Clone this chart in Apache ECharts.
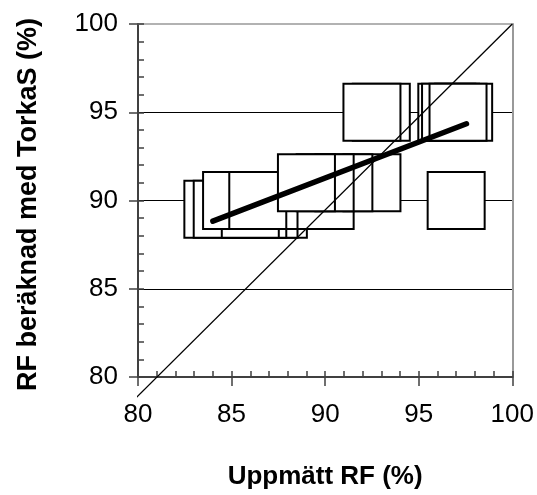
<!DOCTYPE html>
<html><head><meta charset="utf-8">
<script src="https://cdn.jsdelivr.net/npm/echarts@6/dist/echarts.min.js"></script>
<style>html,body{margin:0;padding:0;background:#fff}#c{width:537px;height:495px}</style>
</head><body><div id="c"></div>
<script>
// Data points (draw order: later items are drawn on top)
const measuredRF   = [87.5, 87.0, 86.4, 84.0, 84.5, 86.0,  90.0, 87.0, 85.0, 86.4,  92.5, 91.0, 90.0, 89.0,  93.0, 92.5, 96.5, 96.7, 97.4, 97.1,  97.0];
const calculatedRF = [89.5, 89.5, 89.5, 89.5, 89.5, 89.5,  90.0, 90.0, 90.0, 90.0,  91.0, 91.0, 91.0, 91.0,  95.0, 95.0, 95.0, 95.0, 95.0, 95.0,  90.0];
const regressionX = [84.0, 97.55];
const regressionY = [88.83, 94.35];
const refLineX = [79.5, 100];
const refLineY = [78.4, 100];
const axisMin = 80, axisMax = 100, majorStep = 5, minorStep = 1;
const xTitle = 'Uppmätt RF (%)';
const yTitle = 'RF beräknad med TorkaS (%)';

const FF = '"Liberation Sans", Arial, sans-serif';
const axisCol = '#404040';
const zip = (a, b) => a.map((v, i) => [v, b[i]]);

const chart = echarts.init(document.getElementById('c'), null, {renderer: 'canvas'});
const baseAxis = {type: 'value', min: axisMin, max: axisMax, splitLine: {show: false}};
chart.setOption({
  animation: false,
  backgroundColor: '#fff',
  grid: {left: 138, right: 24, top: 24, bottom: 116, containLabel: false},
  xAxis: [
    Object.assign({}, baseAxis, {
      position: 'bottom', interval: majorStep,
      axisLine: {show: true, onZero: false, lineStyle: {color: axisCol, width: 2}},
      axisTick: {show: true, inside: false, length: 9, lineStyle: {color: axisCol, width: 1.5}},
      axisLabel: {fontSize: 26, color: '#000', margin: 25, fontFamily: FF},
      name: xTitle, nameLocation: 'middle', nameGap: 87,
      nameTextStyle: {fontSize: 26, fontWeight: 'bold', color: '#000', fontFamily: FF}
    }),
    Object.assign({}, baseAxis, {
      position: 'bottom', interval: minorStep,
      axisLine: {show: false, onZero: false},
      axisTick: {show: true, inside: true, length: 6, lineStyle: {color: axisCol, width: 1.5}},
      axisLabel: {show: false}
    }),
    Object.assign({}, baseAxis, {
      position: 'top',
      axisLine: {show: true, onZero: false, lineStyle: {color: '#999', width: 1.5}},
      axisTick: {show: false}, axisLabel: {show: false}
    })
  ],
  yAxis: [
    Object.assign({}, baseAxis, {
      position: 'left', interval: majorStep,
      axisLine: {show: true, onZero: false, lineStyle: {color: axisCol, width: 2}},
      axisTick: {show: true, inside: false, length: 9, lineStyle: {color: axisCol, width: 1.5}},
      axisLabel: {fontSize: 26, color: '#000', margin: 20, fontFamily: FF},
      splitLine: {show: true, showMinLine: false, showMaxLine: false, lineStyle: {color: '#000', width: 1}},
      name: yTitle, nameLocation: 'middle', nameGap: 96, nameRotate: 90,
      nameTextStyle: {fontSize: 27, fontWeight: 'bold', color: '#000', fontFamily: FF, padding: [0, 8, 0, 0]}
    }),
    Object.assign({}, baseAxis, {
      position: 'left', interval: minorStep,
      axisLine: {show: false, onZero: false},
      axisTick: {show: true, inside: true, length: 6, lineStyle: {color: axisCol, width: 1.5}},
      axisLabel: {show: false}
    }),
    Object.assign({}, baseAxis, {
      position: 'right',
      axisLine: {show: true, onZero: false, lineStyle: {color: '#999', width: 2}},
      axisTick: {show: false}, axisLabel: {show: false}
    })
  ],
  series: [
    {
      type: 'scatter', xAxisIndex: 0, yAxisIndex: 0, z: 2,
      data: zip(measuredRF, calculatedRF),
      symbol: 'rect', symbolSize: 57,
      itemStyle: {color: '#fff', borderColor: '#000', borderWidth: 2, opacity: 1},
      emphasis: {disabled: true}, silent: true
    },
    {
      type: 'line', xAxisIndex: 0, yAxisIndex: 0, z: 3, clip: false,
      data: zip(refLineX, refLineY), symbol: 'none',
      lineStyle: {color: '#000', width: 1.3}, silent: true
    },
    {
      type: 'line', xAxisIndex: 0, yAxisIndex: 0, z: 4,
      data: zip(regressionX, regressionY), symbol: 'none',
      lineStyle: {color: '#000', width: 5.5, cap: 'round'}, silent: true
    }
  ]
});
</script>
</body></html>
